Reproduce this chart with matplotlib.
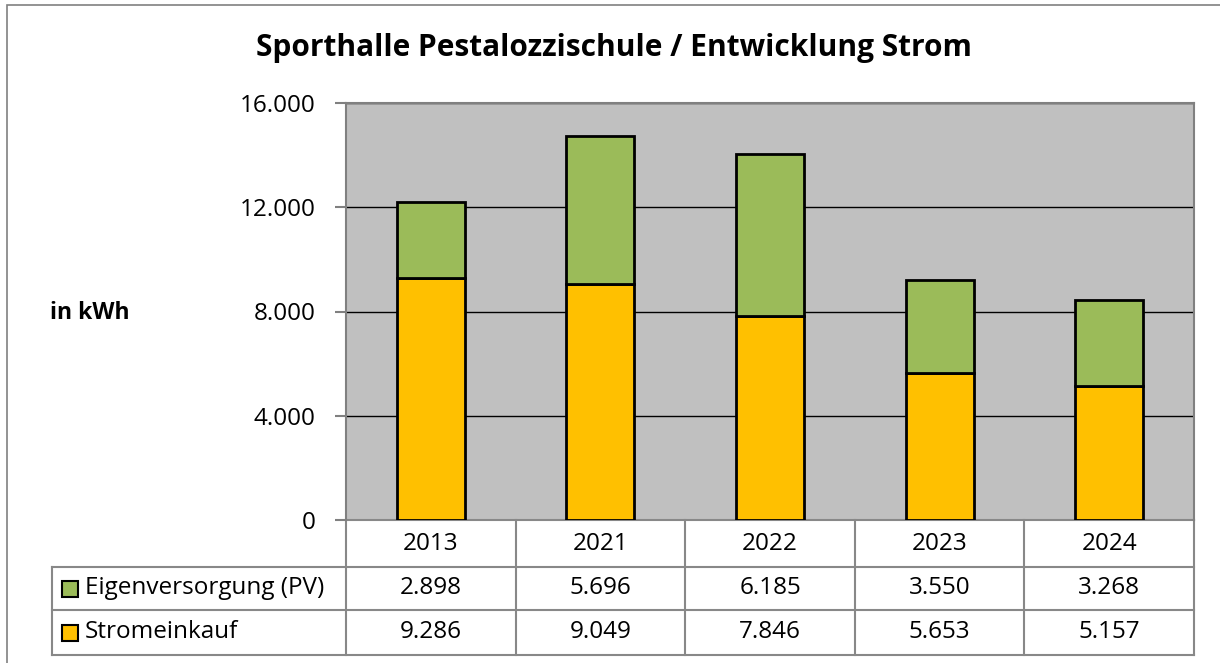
import matplotlib.pyplot as plt
from matplotlib.patches import Rectangle
from matplotlib.transforms import blended_transform_factory
from matplotlib.ticker import FuncFormatter

plt.rcParams['font.family'] = ['Open Sans', 'DejaVu Sans']

jahre = ['2013', '2021', '2022', '2023', '2024']
stromeinkauf = [9286, 9049, 7846, 5653, 5157]
eigenversorgung = [2898, 5696, 6185, 3550, 3268]
serien = ['Eigenversorgung (PV)', 'Stromeinkauf']
farben = {'Eigenversorgung (PV)': '#9BBB59', 'Stromeinkauf': '#FFC000'}

W, H = 1220, 663
fs = 17.5
fig = plt.figure(figsize=(W / 100, H / 100), dpi=100)
fig.patches.append(Rectangle((7 / W, -0.1), 1.2, 1 - 5 / H + 0.1, transform=fig.transFigure,
                             fill=False, edgecolor='#808080', lw=1.2))

ax_l, ax_r, ax_t, ax_b = 346, 1194, 103, 520
ax = fig.add_axes([ax_l / W, 1 - ax_b / H, (ax_r - ax_l) / W, (ax_b - ax_t) / H])
ax.set_facecolor('#C0C0C0')

x = list(range(len(jahre)))
ax.bar(x, stromeinkauf, width=0.4, color=farben['Stromeinkauf'], edgecolor='black', linewidth=2, zorder=3)
ax.bar(x, eigenversorgung, width=0.4, bottom=stromeinkauf, color=farben['Eigenversorgung (PV)'],
       edgecolor='black', linewidth=2, zorder=3)

ax.set_xlim(-0.5, len(jahre) - 0.5)
ax.set_ylim(0, 16000)
ax.set_yticks([0, 4000, 8000, 12000, 16000])
ax.yaxis.set_major_formatter(FuncFormatter(lambda v, p: f'{int(v):,}'.replace(',', '.')))
ax.grid(axis='y', color='black', linewidth=1, zorder=1)
ax.set_xticks([])
ax.tick_params(axis='y', direction='out', length=8, width=1.5, color='#808080', labelsize=fs, pad=14)
for side in ['top', 'right', 'left', 'bottom']:
    ax.spines[side].set_color('#808080')
    ax.spines[side].set_linewidth(1.5)
ax.spines['bottom'].set_visible(False)

# Datentabelle unter dem Diagramm
tr = blended_transform_factory(ax.transData, ax.transAxes)
px = ax_b - ax_t
zeilen = [0, -47 / px, -90 / px, -135 / px]
links = -0.5 - (ax_l - 52) / 169.6
rechts = len(jahre) - 0.5
grau = dict(color='#888888', lw=1.5, transform=tr, clip_on=False)

ax.plot([-0.5, rechts], [zeilen[0]] * 2, **grau)
ax.plot([links, rechts], [zeilen[1]] * 2, **grau)
ax.plot([links, rechts], [zeilen[2]] * 2, **grau)
ax.plot([links, rechts], [zeilen[3]] * 2, **grau)
ax.plot([links, links], [zeilen[1], zeilen[3]], **grau)
for i in range(len(jahre) + 1):
    ax.plot([i - 0.5, i - 0.5], [zeilen[0], zeilen[3]], **grau)

werte = {'Eigenversorgung (PV)': eigenversorgung, 'Stromeinkauf': stromeinkauf}
for i, j in enumerate(jahre):
    ax.text(i, (zeilen[0] + zeilen[1]) / 2, j, transform=tr, ha='center', va='center', fontsize=fs)
for r, name in enumerate(serien):
    yc = (zeilen[r + 1] + zeilen[r + 2]) / 2
    for i, v in enumerate(werte[name]):
        ax.text(i, yc, f'{v:,}'.replace(',', '.'), transform=tr, ha='center', va='center', fontsize=fs)
    fig.patches.append(Rectangle((62 / W, 1 - (ax_b - yc * px + 8) / H), 16 / W, 16 / H,
                                 transform=fig.transFigure, facecolor=farben[name],
                                 edgecolor='black', lw=1.5))
    fig.text(85 / W, 1 - (ax_b - yc * px) / H, name, ha='left', va='center', fontsize=fs)

fig.text(614 / W, 1 - 48 / H, 'Sporthalle Pestalozzischule / Entwicklung Strom',
         ha='center', va='center', fontsize=21.5, fontweight='bold')
fig.text(50 / W, 1 - 313 / H, 'in kWh', ha='left', va='center', fontsize=16.5, fontweight='bold')

fig.savefig('out.png', dpi=100)
